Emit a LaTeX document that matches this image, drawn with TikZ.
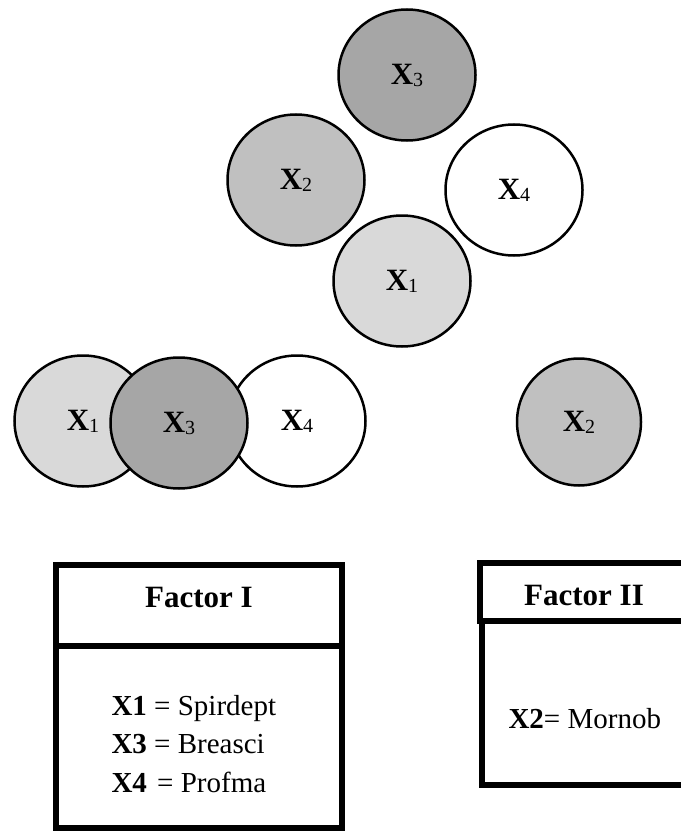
\documentclass[tikz,border=0pt]{standalone}
\usepackage{fontspec}
\setmainfont{Liberation Serif}
\usetikzlibrary{shapes.geometric}
\definecolor{lightgr}{HTML}{D9D9D9}
\definecolor{midgr}{HTML}{C0C0C0}
\definecolor{darkgr}{HTML}{A6A6A6}
\newcommand{\xvar}[1]{{\bfseries X}\raisebox{-2pt}{\fontsize{20}{20}\selectfont #1}}

\begin{document}
\begin{tikzpicture}[x=1pt,y=1pt,
  var/.style={ellipse,draw,line width=2.5pt,inner sep=0pt,minimum width=137pt,minimum height=131pt,font=\fontsize{31}{31}\selectfont},
  head/.style={font=\fontsize{31}{31}\selectfont\bfseries,anchor=base},
  item/.style={font=\fontsize{29}{29}\selectfont,anchor=base west}]
\useasboundingbox (0,0) rectangle (680,-832);
% top group
\node[var,fill=darkgr] (t3) at (407,-75) {\xvar{3}};
\node[var,fill=midgr] (t2) at (296,-180) {\xvar{2}};
\node[var,fill=white] (t4) at (514,-190) {\xvar{4}};
\node[var,fill=lightgr] (t1) at (402,-281) {\xvar{1}};
% the two factors
\node[var,fill=lightgr] (b1) at (83,-421) {\xvar{1}};
\node[var,fill=white] (b4) at (297,-421) {\xvar{4}};
\node[var,fill=darkgr] (b3) at (179,-423) {\xvar{3}};
\node[var,fill=midgr,minimum width=124pt,minimum height=127pt] (b2) at (579,-422) {\xvar{2}};
% tables
\draw[line width=5.5pt] (56,-565) rectangle (342,-828);
\draw[line width=5.5pt] (56,-646) -- (342,-646);
\draw[line width=5.5pt] (482,-621) rectangle (692,-785);
\draw[line width=5.5pt] (480,-563) rectangle (692,-621);
\node[head] (f1title) at (199,-607) {Factor I};
\node[head] (f2title) at (584,-605) {Factor II};
\node[item] (f1a) at (108,-715) {\textbf{X1} = Spirdept};
\node[item] (f1b) at (108,-753) {\textbf{X3} = Breasci};
\node[item] (f1c) at (108,-792) {\textbf{X4}\hspace{3pt} = Profma};
\node[item] (f2a) at (505,-728) {\textbf{X2}= Mornob};
\end{tikzpicture}
\end{document}
